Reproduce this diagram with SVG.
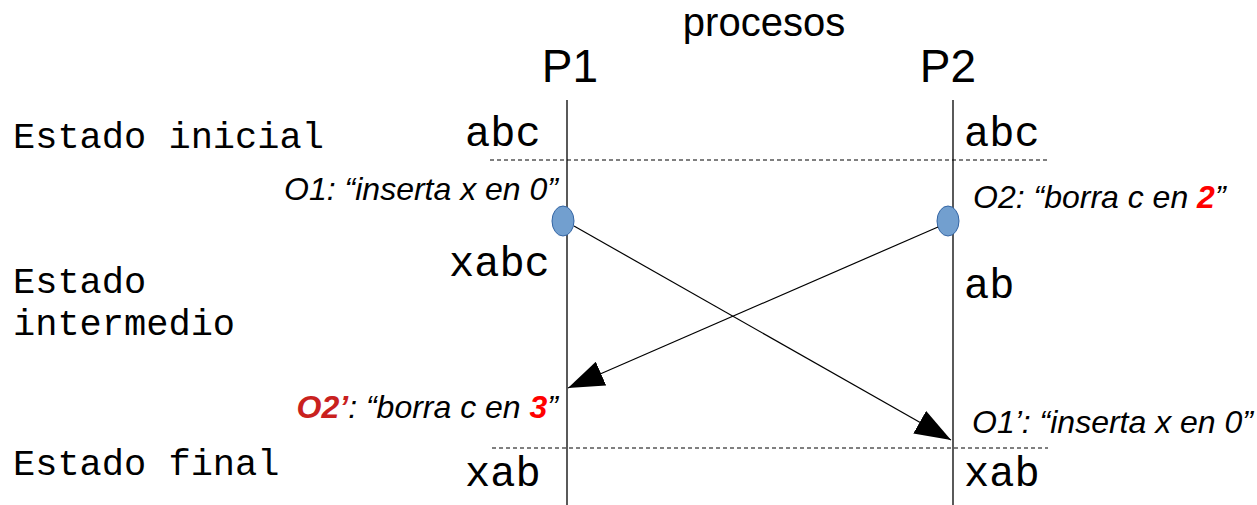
<svg xmlns="http://www.w3.org/2000/svg" width="1257" height="505" viewBox="0 0 1257 505">
<style>
.sans{font-family:"Liberation Sans",Arial,sans-serif;fill:#000}
.mono{font-family:"Liberation Mono","Courier New",monospace;fill:#000}
.st{font-size:37px}
.val{font-size:42px}
.op{font-size:32px;font-style:italic}
.red{fill:#ff0000;font-weight:bold}
.dred{fill:#c9211e;font-weight:bold}
.dash{stroke:#000;stroke-width:1;stroke-dasharray:4,3}
.axis{stroke:#000;stroke-width:1.3}
.ev{fill:#729fcf;stroke:#3465a4;stroke-width:1}
.conn{stroke:#000;stroke-width:1.2;fill:none}
</style>
<defs>
<marker id="ah" markerWidth="38" markerHeight="26" refX="36" refY="13" orient="auto" markerUnits="userSpaceOnUse">
<path d="M0,0 L36,13 L0,26 z" fill="#000"/>
</marker>
</defs>
<rect width="1257" height="505" fill="#fff"/>
<g id="title">
<text class="sans" x="764" y="36" font-size="40" text-anchor="middle">procesos</text>
</g>
<g id="p1">
<text class="sans" x="570" y="82" font-size="46" text-anchor="middle">P1</text>
<line class="axis" x1="567" y1="100" x2="567" y2="505"/>
</g>
<g id="p2">
<text class="sans" x="948" y="82" font-size="46" text-anchor="middle">P2</text>
<line class="axis" x1="953" y1="100" x2="953" y2="505"/>
</g>
<g id="lines">
<line class="dash" x1="490" y1="160" x2="1048" y2="160"/>
<line class="dash" x1="492" y1="448" x2="1048" y2="448"/>
</g>
<g id="states">
<text class="mono st" x="13" y="148">Estado inicial</text>
<text class="mono st" x="13" y="293">Estado</text>
<text class="mono st" x="13" y="335">intermedio</text>
<text class="mono st" x="13" y="475">Estado final</text>
</g>
<g id="values">
<text class="mono val" x="465" y="146">abc</text>
<text class="mono val" x="964" y="146">abc</text>
<text class="mono val" x="449" y="276">xabc</text>
<text class="mono val" x="964" y="298">ab</text>
<text class="mono val" x="465" y="486">xab</text>
<text class="mono val" x="964" y="486">xab</text>
</g>
<g id="e1">
<ellipse class="ev" cx="563" cy="221" rx="11" ry="15"/>
<text class="sans op" x="558" y="200" text-anchor="end">O1: “inserta x en 0”</text>
</g>
<g id="e2">
<ellipse class="ev" cx="948" cy="221" rx="11" ry="15"/>
<text class="sans op" x="973" y="208">O2: “borra c en <tspan class="red">2</tspan>”</text>
</g>
<g id="e3">
<text class="sans op" x="558" y="418" text-anchor="end"><tspan class="dred">O2’</tspan>: “borra c en <tspan class="red">3</tspan>”</text>
</g>
<g id="e4">
<text class="sans op" x="972" y="433">O1’: “inserta x en 0”</text>
</g>
<g id="connectors">
<line class="conn" x1="574" y1="226" x2="951" y2="440" marker-end="url(#ah)"/>
<line class="conn" x1="938" y1="227" x2="568" y2="388" marker-end="url(#ah)"/>
</g>
</svg>
